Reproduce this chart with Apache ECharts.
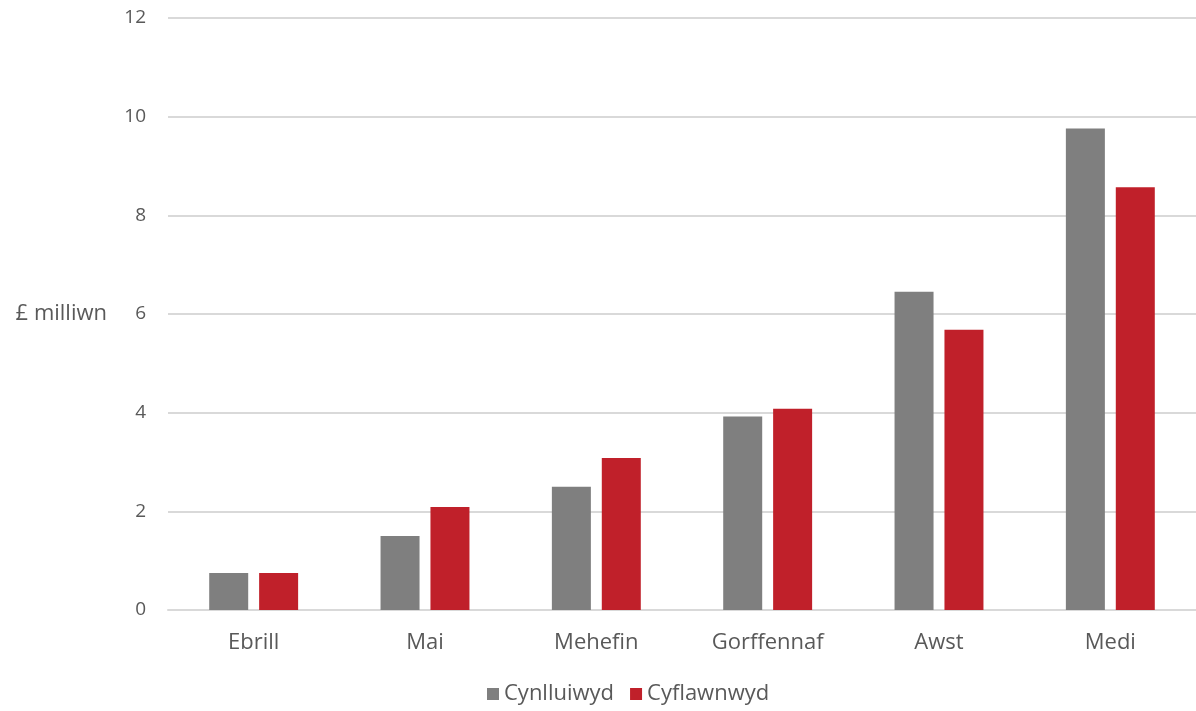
<!DOCTYPE html>
<html>
<head>
<meta charset="utf-8">
<script src="https://cdn.jsdelivr.net/npm/echarts@6/dist/echarts.min.js"></script>
<style>
  html, body { margin: 0; padding: 0; background: #fff; }
  #chart { width: 1196px; height: 711px; }
</style>
</head>
<body>
<div id="chart"></div>
<script>
  // months (Welsh)
  var months = ['Ebrill', 'Mai', 'Mehefin', 'Gorffennaf', 'Awst', 'Medi'];
  // £ million
  var cynlluniwyd = [0.75, 1.5, 2.5, 3.92, 6.45, 9.76];
  var cyflawnwyd = [0.75, 2.09, 3.08, 4.08, 5.68, 8.57];

  var chart = echarts.init(document.getElementById('chart'));
  chart.setOption({
    backgroundColor: '#ffffff',
    color: ['#7f7f7f', '#c0202a'],
    textStyle: { fontFamily: 'Open Sans, sans-serif' },
    animation: false,
    grid: { left: 168, right: 0, top: 18, bottom: 101, containLabel: false, outerBoundsMode: 'none' },
    legend: {
      bottom: 1,
      left: 482,
      itemWidth: 12,
      itemHeight: 12,
      itemGap: 16,
      icon: 'rect',
      textStyle: { color: '#595959', fontSize: 22 },
      data: ['Cynlluiwyd', 'Cyflawnwyd']
    },
    xAxis: {
      type: 'category',
      data: months,
      axisLine: { lineStyle: { color: '#d9d9d9', width: 2 } },
      axisTick: { show: false },
      axisLabel: { color: '#595959', fontSize: 22, margin: 22 }
    },
    yAxis: {
      type: 'value',
      min: 0,
      max: 12,
      interval: 2,
      name: '£ milliwn',
      nameLocation: 'middle',
      nameRotate: 0,
      nameGap: 61,
      nameTextStyle: { color: '#595959', fontSize: 22 },
      axisLine: { show: false },
      axisTick: { show: false },
      axisLabel: { color: '#595959', fontSize: 19, margin: 22 },
      splitLine: { lineStyle: { color: '#d9d9d9', width: 2 } }
    },
    series: [
      {
        name: 'Cynlluiwyd',
        type: 'bar',
        data: cynlluniwyd,
        barWidth: 39,
        barGap: '28%'
      },
      {
        name: 'Cyflawnwyd',
        type: 'bar',
        data: cyflawnwyd,
        barWidth: 39,
        barGap: '28%'
      }
    ]
  });
</script>
</body>
</html>
